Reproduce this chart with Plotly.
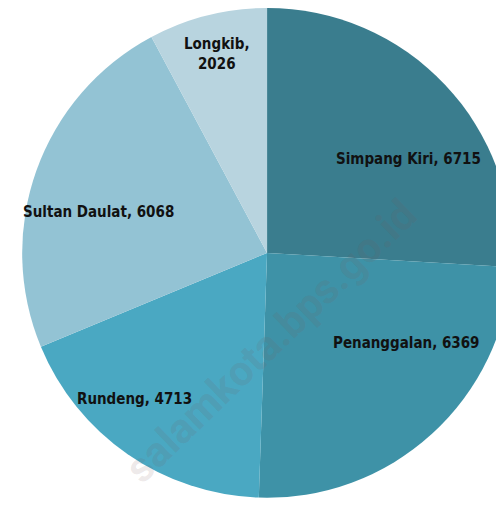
import plotly.graph_objects as go

labels = ["Simpang Kiri", "Penanggalan", "Rundeng", "Sultan Daulat", "Longkib"]
values = [6715, 6369, 4713, 6068, 2026]
colors = ["#3a7d8e", "#3e92a7", "#4aa8c2", "#93c3d4", "#b8d4df"]

# label placement (pixels from top-left)
label_pos = [(400, 151), (398, 335), (126, 391), (90, 204), (209, 46)]
label_text = [f"{l}, {v}" for l, v in zip(labels, values)]
label_text[4] = f"{labels[4]},<br>{values[4]}"

W, H = 504, 507

fig = go.Figure(go.Pie(
    labels=labels, values=values, sort=False, direction="clockwise", rotation=0,
    marker=dict(colors=colors, line=dict(width=0)),
    textinfo="none", hoverinfo="label+value",
    domain=dict(x=[0.028, 1.0], y=[0.034, 1.0]),
    showlegend=False,
))

for (x, y), t in zip(label_pos, label_text):
    fig.add_annotation(x=x / W, y=1 - y / H, xref="paper", yref="paper", text=t,
                       showarrow=False, xanchor="center", yanchor="middle",
                       font=dict(family="DejaVu Sans Condensed, Liberation Sans Narrow, Roboto, sans-serif",
                                 size=15, color="#111111", weight="bold"))

fig.add_annotation(x=262 / W, y=1 - 333 / H, xref="paper", yref="paper",
                   text="salamkota.bps.go.id", showarrow=False, textangle=-44,
                   xanchor="center", yanchor="middle",
                   font=dict(family="Roboto, sans-serif", size=42, weight="bold",
                             color="rgba(120,90,90,0.14)"))

fig.update_layout(width=W, height=H, margin=dict(l=0, r=0, t=0, b=0),
                  paper_bgcolor="white", plot_bgcolor="white")

fig.write_html("out.html")
